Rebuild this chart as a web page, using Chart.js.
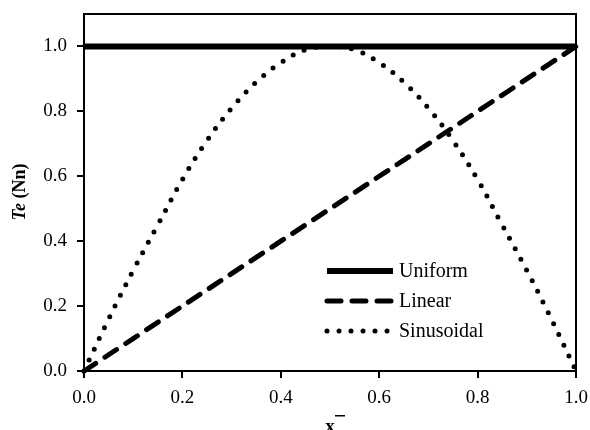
<!DOCTYPE html>
<html>
<head>
<meta charset="utf-8">
<script src="https://cdn.jsdelivr.net/npm/chart.js@4/dist/chart.umd.min.js"></script>
<style>
html,body{margin:0;padding:0;background:#fff;}
#wrap{width:590px;height:430px;position:relative;}
</style>
</head>
<body>
<div id="wrap"><canvas id="c" width="590" height="430"></canvas></div>
<script>
const xValues = [0,0.05,0.1,0.15,0.2,0.25,0.3,0.35,0.4,0.45,0.5,0.55,0.6,0.65,0.7,0.75,0.8,0.85,0.9,0.95,1.0];
const uniformValues = [1,1,1,1,1,1,1,1,1,1,1,1,1,1,1,1,1,1,1,1,1];
const linearValues = [0,0.05,0.1,0.15,0.2,0.25,0.3,0.35,0.4,0.45,0.5,0.55,0.6,0.65,0.7,0.75,0.8,0.85,0.9,0.95,1.0];
const sinusoidalValues = [0,0.16,0.31,0.45,0.59,0.71,0.81,0.89,0.95,0.99,1.0,0.99,0.95,0.89,0.81,0.71,0.59,0.45,0.31,0.16,0];
const seriesLabels = ['Uniform','Linear','Sinusoidal'];
const xTickValues = [0,0.2,0.4,0.6,0.8,1.0];
const yTickValues = [0,0.2,0.4,0.6,0.8,1.0];

const FONT = "'Liberation Serif', 'Times New Roman', serif";
const pts = vals => xValues.map((x,i)=>({x:x,y:vals[i]}));

const styles = [
  {borderWidth:6, borderDash:[], cap:'butt'},
  {borderWidth:5, borderDash:[14,11], cap:'round'},
  {borderWidth:5, borderDash:[0,12], cap:'round'}
];

const frame = {
  id:'frame',
  afterDatasetsDraw(chart){
    const {ctx, chartArea:a} = chart;
    ctx.save();
    ctx.strokeStyle='#000'; ctx.lineWidth=2;
    ctx.strokeRect(a.left, a.top, a.right-a.left, a.bottom-a.top);
    // legend
    const rows=[271,301,331];
    chart.data.datasets.forEach((ds,i)=>{
      ctx.beginPath();
      ctx.lineWidth=ds.borderWidth;
      ctx.setLineDash(ds.borderDash);
      ctx.lineCap=ds.borderCapStyle;
      ctx.moveTo(327,rows[i]); ctx.lineTo(393,rows[i]);
      ctx.stroke();
      ctx.setLineDash([]);
      ctx.fillStyle='#000';
      ctx.font='20px '+FONT;
      ctx.textBaseline='middle'; ctx.textAlign='left';
      ctx.fillText(ds.label, 399, rows[i]+1);
    });
    // y title
    ctx.translate(20,192);
    ctx.rotate(-Math.PI/2);
    ctx.textBaseline='middle';
    ctx.font='italic bold 18px '+FONT;
    const t1='Te', t2=' (Nn)';
    const w1=ctx.measureText(t1).width;
    ctx.font='bold 18px '+FONT;
    const w2=ctx.measureText(t2).width;
    let sx=-(w1+w2)/2;
    ctx.textAlign='left';
    ctx.font='italic bold 18px '+FONT;
    ctx.fillText(t1,sx,0);
    ctx.font='bold 18px '+FONT;
    ctx.fillText(t2,sx+w1,0);
    ctx.setTransform(1,0,0,1,0,0);
    // x title
    ctx.font='bold 19px '+FONT;
    ctx.textAlign='center'; ctx.textBaseline='alphabetic';
    ctx.fillText('x',330,432);
    ctx.fillRect(335,415,10,1.5);
    ctx.restore();
  }
};

new Chart(document.getElementById('c'),{
  type:'line',
  data:{
    datasets:[uniformValues,linearValues,sinusoidalValues].map((v,i)=>({
      label:seriesLabels[i],
      data:pts(v),
      borderColor:'#000',
      backgroundColor:'#000',
      borderWidth:styles[i].borderWidth,
      borderDash:styles[i].borderDash,
      borderCapStyle:styles[i].cap,
      pointRadius:0,
      tension:i===2?0.4:0,
      fill:false,
      clip:false
    }))
  },
  options:{
    responsive:false,
    animation:false,
    devicePixelRatio:1,
    layout:{padding:{top:14,right:14,left:0,bottom:0}},
    plugins:{legend:{display:false},tooltip:{enabled:false}},
    scales:{
      x:{
        type:'linear',min:0,max:1,
        afterBuildTicks:s=>{s.ticks=xTickValues.map(v=>({value:v}));},
        afterFit:s=>{s.height=59;s.paddingLeft=0;s.paddingRight=0;},
        border:{display:true,color:'#000',width:2},
        grid:{drawOnChartArea:false,drawTicks:true,tickLength:7,color:'#000',lineWidth:2},
        ticks:{color:'#000',font:{family:FONT,size:19},padding:9,maxRotation:0,
          callback:v=>Number(v).toFixed(1)}
      },
      y:{
        type:'linear',min:0,max:1.1,
        afterBuildTicks:s=>{s.ticks=yTickValues.map(v=>({value:v}));},
        afterFit:s=>{s.width=84;s.paddingTop=0;s.paddingBottom=0;},
        border:{display:true,color:'#000',width:2},
        grid:{drawOnChartArea:false,drawTicks:true,tickLength:7,color:'#000',lineWidth:2},
        ticks:{color:'#000',font:{family:FONT,size:19},padding:10,
          callback:v=>Number(v).toFixed(1)}
      }
    }
  },
  plugins:[frame]
});
</script>
</body>
</html>
